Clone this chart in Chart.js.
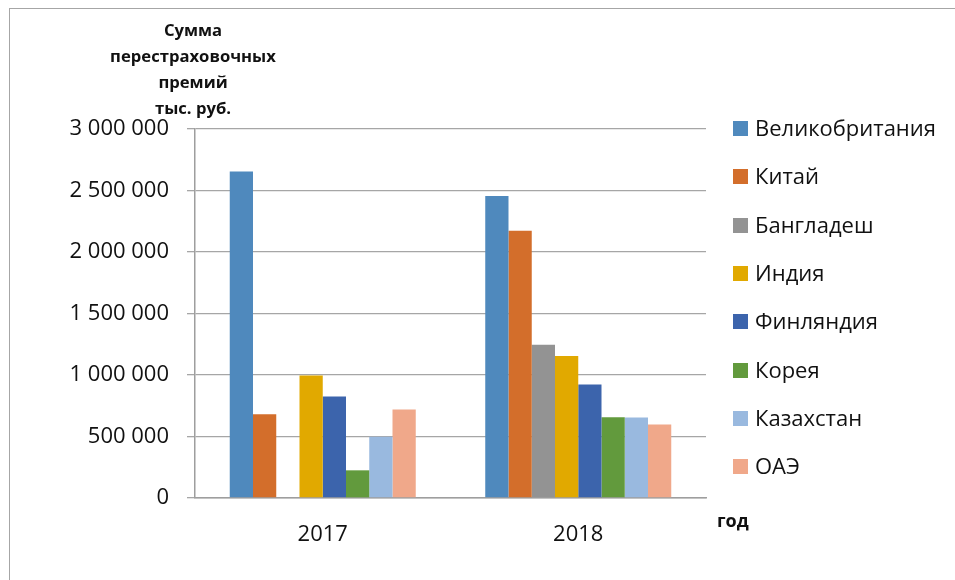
<!DOCTYPE html>
<html>
<head>
<meta charset="utf-8">
<script src="https://cdn.jsdelivr.net/npm/chart.js@4"></script>
<style>
  html, body { margin: 0; padding: 0; background: #fff; }
  #wrap { position: relative; width: 955px; height: 580px; overflow: hidden; font-family: "Open Sans", sans-serif; }
  #frame { position: absolute; left: 9px; top: 8px; width: 1000px; height: 700px; border-left: 1.5px solid #a6a6a6; border-top: 1.5px solid #a6a6a6; }
  canvas { position: absolute; left: 0; top: 0; }
  #ytitle { position: absolute; left: 93px; top: 17px; width: 200px; text-align: center; font-weight: bold; font-size: 16px; line-height: 26px; color: #111; transform: scaleX(1.04); }
  #xtitle { position: absolute; left: 717px; top: 508px; font-weight: bold; font-size: 18px; color: #111; }
  #legend { position: absolute; left: 733px; top: 0; }
  .item { position: absolute; left: 0; white-space: nowrap; height: 30px; }
  .box { position: absolute; left: 0; top: 8px; width: 15px; height: 15px; }
  .lbl { position: absolute; left: 22px; top: -1px; font-size: 22px; line-height: 30px; color: #111; }
</style>
</head>
<body>
<div id="wrap">
  <div id="frame"></div>
  <canvas id="grafico" width="955" height="580"></canvas>
  <div id="ytitle">Сумма<br>перестраховочных<br>премий<br>тыс. руб.</div>
  <div id="xtitle">год</div>
  <div id="legend"></div>
</div>
<script>
const years = ["2017", "2018"];
const countries = ["Великобритания", "Китай", "Бангладеш", "Индия", "Финляндия", "Корея", "Казахстан", "ОАЭ"];
const colors = ["#4F89BD", "#D36E2B", "#939393", "#E1A900", "#3C64AC", "#629A3D", "#99B9DF", "#F0A88A"];

// values per country: [2017, 2018]
const velikobritania = [2655000, 2455000];
const kitai = [680000, 2172000];
const bangladesh = [null, 1246000];
const india = [995000, 1154000];
const finlandia = [825000, 923000];
const koreya = [225000, 657000];
const kazakhstan = [498000, 654000];
const oae = [719000, 597000];

const seriesValues = [velikobritania, kitai, bangladesh, india, finlandia, koreya, kazakhstan, oae];
const yTicks = [0, 500000, 1000000, 1500000, 2000000, 2500000, 3000000];

function formatNum(v) {
    return String(v).replace(/\B(?=(\d{3})+(?!\d))/g, " ");
}

document.addEventListener('DOMContentLoaded', function() {
    const datasets = countries.map(function(name, i) {
        return {
            label: name,
            data: seriesValues[i],
            backgroundColor: colors[i],
            borderWidth: 0,
            barPercentage: 1.0,
            categoryPercentage: 0.728
        };
    });

    // leyenda a la derecha
    const legend = document.getElementById("legend");
    countries.forEach(function(name, i) {
        const item = document.createElement("div");
        item.className = "item";
        item.style.top = (113 + i * 48.3) + "px";
        item.innerHTML = `<div class="box" style="background:${colors[i]}"></div><div class="lbl">${name}</div>`;
        legend.appendChild(item);
    });

    const ctx = document.getElementById("grafico").getContext("2d");
    new Chart(ctx, {
        type: "bar",
        data: {
            labels: years,
            datasets: datasets
        },
        options: {
            responsive: false,
            animation: false,
            devicePixelRatio: 1,
            layout: {
                padding: { left: 10, right: 249, top: 129, bottom: 22 }
            },
            plugins: {
                legend: { display: false },
                tooltip: { enabled: false }
            },
            scales: {
                x: {
                    grid: { display: false },
                    border: { color: "#9e9e9e", width: 1.5 },
                    ticks: {
                        color: "#111",
                        padding: 16,
                        font: { family: "Open Sans", size: 22 }
                    },
                    afterFit: function(scale) { scale.height = 60; }
                },
                y: {
                    min: 0,
                    max: 3000000,
                    afterBuildTicks: function(scale) {
                        scale.ticks = yTicks.map(function(v) { return { value: v }; });
                    },
                    grid: {
                        color: "#a6a6a6",
                        lineWidth: 1.3,
                        tickLength: 8
                    },
                    border: { color: "#9e9e9e", width: 1.5 },
                    ticks: {
                        color: "#111",
                        padding: 18,
                        font: { family: "Open Sans", size: 22 },
                        callback: function(value) { return formatNum(value); }
                    },
                    afterFit: function(scale) { scale.width = 185; }
                }
            }
        }
    });
});
</script>
</body>
</html>
